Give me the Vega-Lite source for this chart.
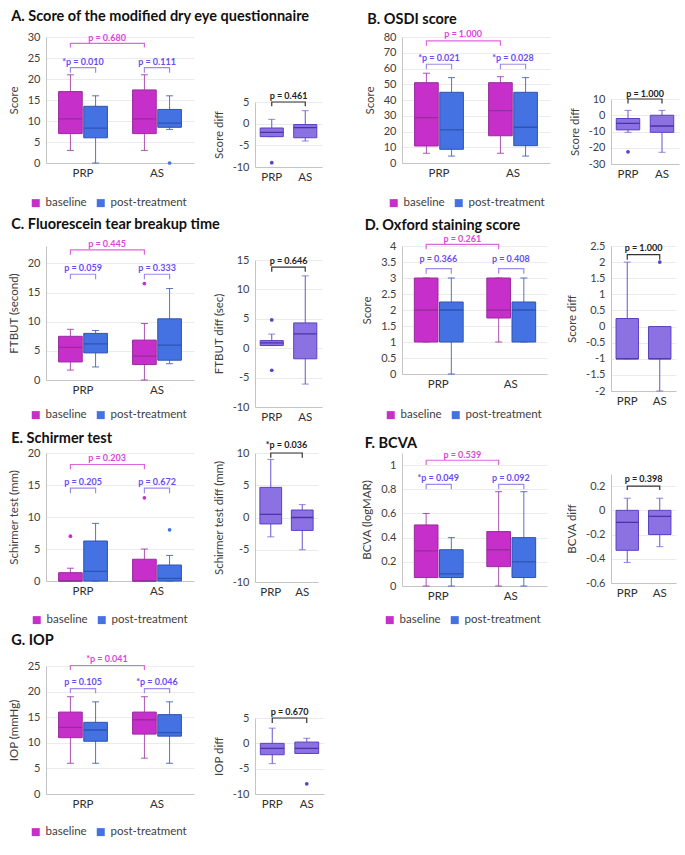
{
"$schema":"https://vega.github.io/schema/vega-lite/v6.json",
"padding":{"left":8,"top":8,"right":4,"bottom":4},
"datasets":{
"box":[
{"p":"A","g":"PRP","t":"baseline","lo":3,"q1":7,"med":10.5,"q3":17,"hi":21},
{"p":"A","g":"PRP","t":"post-treatment","lo":0,"q1":6,"med":8.3,"q3":13.5,"hi":16},
{"p":"A","g":"AS","t":"baseline","lo":3,"q1":7,"med":10.5,"q3":17.4,"hi":21},
{"p":"A","g":"AS","t":"post-treatment","lo":8,"q1":8.5,"med":9.5,"q3":12.75,"hi":16},
{"p":"B","g":"PRP","t":"baseline","lo":6.2,"q1":10.8,"med":28.8,"q3":51,"hi":57},
{"p":"B","g":"PRP","t":"post-treatment","lo":4.4,"q1":8.7,"med":21,"q3":44.9,"hi":54.2},
{"p":"B","g":"AS","t":"baseline","lo":6.2,"q1":17.3,"med":33.2,"q3":51,"hi":54.8},
{"p":"B","g":"AS","t":"post-treatment","lo":4.4,"q1":11,"med":22.7,"q3":44.9,"hi":54.2},
{"p":"C","g":"PRP","t":"baseline","lo":1.7,"q1":3.1,"med":5.6,"q3":7.5,"hi":8.7},
{"p":"C","g":"PRP","t":"post-treatment","lo":2.24,"q1":4.65,"med":6.2,"q3":8,"hi":8.5},
{"p":"C","g":"AS","t":"baseline","lo":0,"q1":2.65,"med":4.1,"q3":6.85,"hi":9.7},
{"p":"C","g":"AS","t":"post-treatment","lo":2.8,"q1":3.4,"med":6,"q3":10.5,"hi":15.7},
{"p":"D","g":"PRP","t":"baseline","lo":1,"q1":1,"med":2,"q3":3,"hi":3},
{"p":"D","g":"PRP","t":"post-treatment","lo":0,"q1":1,"med":2,"q3":2.25,"hi":3},
{"p":"D","g":"AS","t":"baseline","lo":1,"q1":1.75,"med":2,"q3":3,"hi":3},
{"p":"D","g":"AS","t":"post-treatment","lo":1,"q1":1,"med":2,"q3":2.25,"hi":3},
{"p":"E","g":"PRP","t":"baseline","lo":0,"q1":0,"med":0,"q3":1.3,"hi":2},
{"p":"E","g":"PRP","t":"post-treatment","lo":0,"q1":0,"med":1.5,"q3":6.25,"hi":9},
{"p":"E","g":"AS","t":"baseline","lo":0,"q1":0,"med":0,"q3":3.4,"hi":5},
{"p":"E","g":"AS","t":"post-treatment","lo":0,"q1":0,"med":0.42,"q3":2.5,"hi":4},
{"p":"F","g":"PRP","t":"baseline","lo":0,"q1":0.07,"med":0.29,"q3":0.505,"hi":0.6},
{"p":"F","g":"PRP","t":"post-treatment","lo":0,"q1":0.07,"med":0.1,"q3":0.3,"hi":0.4},
{"p":"F","g":"AS","t":"baseline","lo":0,"q1":0.16,"med":0.3,"q3":0.45,"hi":0.78},
{"p":"F","g":"AS","t":"post-treatment","lo":0,"q1":0.07,"med":0.2,"q3":0.4,"hi":0.78},
{"p":"G","g":"PRP","t":"baseline","lo":6,"q1":11,"med":13,"q3":16,"hi":19},
{"p":"G","g":"PRP","t":"post-treatment","lo":6,"q1":10.3,"med":12.5,"q3":14,"hi":18},
{"p":"G","g":"AS","t":"baseline","lo":7,"q1":11.7,"med":14.5,"q3":16,"hi":19},
{"p":"G","g":"AS","t":"post-treatment","lo":6,"q1":11.3,"med":12,"q3":15.5,"hi":18}
],
"out":[
{"p":"A","g":"AS","t":"post-treatment","v":0},
{"p":"C","g":"AS","t":"baseline","v":16.55},
{"p":"E","g":"PRP","t":"baseline","v":7},
{"p":"E","g":"AS","t":"baseline","v":13},
{"p":"E","g":"AS","t":"post-treatment","v":8}
],
"dbox":[
{"p":"A","g":"PRP","lo":-3,"q1":-3,"med":-2,"q3":-1,"hi":1},
{"p":"A","g":"AS","lo":-4,"q1":-3.25,"med":-0.9,"q3":-0.2,"hi":3},
{"p":"B","g":"PRP","lo":-10.5,"q1":-9,"med":-5,"q3":-2,"hi":3},
{"p":"B","g":"AS","lo":-22.8,"q1":-10.5,"med":-6.6,"q3":0,"hi":3},
{"p":"C","g":"PRP","lo":0.45,"q1":0.45,"med":0.9,"q3":1.3,"hi":2.4},
{"p":"C","g":"AS","lo":-6.1,"q1":-1.8,"med":2.45,"q3":4.3,"hi":12.3},
{"p":"D","g":"PRP","lo":-1,"q1":-1,"med":-1,"q3":0.25,"hi":2},
{"p":"D","g":"AS","lo":-2,"q1":-1,"med":-1,"q3":0,"hi":0},
{"p":"E","g":"PRP","lo":-3,"q1":-1,"med":0.5,"q3":4.67,"hi":9},
{"p":"E","g":"AS","lo":-5,"q1":-2,"med":0,"q3":1.16,"hi":2},
{"p":"F","g":"PRP","lo":-0.43,"q1":-0.33,"med":-0.1,"q3":0,"hi":0.1},
{"p":"F","g":"AS","lo":-0.3,"q1":-0.2,"med":-0.05,"q3":0,"hi":0.1},
{"p":"G","g":"PRP","lo":-4,"q1":-2.25,"med":-1,"q3":0,"hi":3},
{"p":"G","g":"AS","lo":-2,"q1":-2,"med":-1,"q3":0.25,"hi":1}
],
"dout":[
{"p":"A","g":"PRP","v":-9},
{"p":"B","g":"PRP","v":-22.5},
{"p":"C","g":"PRP","v":4.8},
{"p":"C","g":"PRP","v":-3.75},
{"p":"D","g":"AS","v":2},
{"p":"G","g":"AS","v":-8}
],
"brk":[
{"p":"A","c":"pink","b":"x","k":1,"g":"PRP","t":"baseline","y":27.5},
{"p":"A","c":"pink","b":"x","k":2,"g":"PRP","t":"baseline","y":28.5},
{"p":"A","c":"pink","b":"x","k":3,"g":"AS","t":"baseline","y":28.5},
{"p":"A","c":"pink","b":"x","k":4,"g":"AS","t":"baseline","y":27.5},
{"p":"A","c":"purple","b":"PRP","k":1,"g":"PRP","t":"baseline","y":21.5},
{"p":"A","c":"purple","b":"PRP","k":2,"g":"PRP","t":"baseline","y":22.7},
{"p":"A","c":"purple","b":"PRP","k":3,"g":"PRP","t":"post-treatment","y":22.7},
{"p":"A","c":"purple","b":"PRP","k":4,"g":"PRP","t":"post-treatment","y":21.5},
{"p":"A","c":"purple","b":"AS","k":1,"g":"AS","t":"baseline","y":21.5},
{"p":"A","c":"purple","b":"AS","k":2,"g":"AS","t":"baseline","y":22.7},
{"p":"A","c":"purple","b":"AS","k":3,"g":"AS","t":"post-treatment","y":22.7},
{"p":"A","c":"purple","b":"AS","k":4,"g":"AS","t":"post-treatment","y":21.5},
{"p":"B","c":"pink","b":"x","k":1,"g":"PRP","t":"baseline","y":74.5},
{"p":"B","c":"pink","b":"x","k":2,"g":"PRP","t":"baseline","y":77.5},
{"p":"B","c":"pink","b":"x","k":3,"g":"AS","t":"baseline","y":77.5},
{"p":"B","c":"pink","b":"x","k":4,"g":"AS","t":"baseline","y":74.5},
{"p":"B","c":"purple","b":"PRP","k":1,"g":"PRP","t":"baseline","y":59.5},
{"p":"B","c":"purple","b":"PRP","k":2,"g":"PRP","t":"baseline","y":62.7},
{"p":"B","c":"purple","b":"PRP","k":3,"g":"PRP","t":"post-treatment","y":62.7},
{"p":"B","c":"purple","b":"PRP","k":4,"g":"PRP","t":"post-treatment","y":59.5},
{"p":"B","c":"purple","b":"AS","k":1,"g":"AS","t":"baseline","y":59.5},
{"p":"B","c":"purple","b":"AS","k":2,"g":"AS","t":"baseline","y":62.7},
{"p":"B","c":"purple","b":"AS","k":3,"g":"AS","t":"post-treatment","y":62.7},
{"p":"B","c":"purple","b":"AS","k":4,"g":"AS","t":"post-treatment","y":59.5},
{"p":"C","c":"pink","b":"x","k":1,"g":"PRP","t":"baseline","y":21.5},
{"p":"C","c":"pink","b":"x","k":2,"g":"PRP","t":"baseline","y":22.35},
{"p":"C","c":"pink","b":"x","k":3,"g":"AS","t":"baseline","y":22.35},
{"p":"C","c":"pink","b":"x","k":4,"g":"AS","t":"baseline","y":21.5},
{"p":"C","c":"purple","b":"PRP","k":1,"g":"PRP","t":"baseline","y":17.3},
{"p":"C","c":"purple","b":"PRP","k":2,"g":"PRP","t":"baseline","y":18.15},
{"p":"C","c":"purple","b":"PRP","k":3,"g":"PRP","t":"post-treatment","y":18.15},
{"p":"C","c":"purple","b":"PRP","k":4,"g":"PRP","t":"post-treatment","y":17.3},
{"p":"C","c":"purple","b":"AS","k":1,"g":"AS","t":"baseline","y":17.3},
{"p":"C","c":"purple","b":"AS","k":2,"g":"AS","t":"baseline","y":18.15},
{"p":"C","c":"purple","b":"AS","k":3,"g":"AS","t":"post-treatment","y":18.15},
{"p":"C","c":"purple","b":"AS","k":4,"g":"AS","t":"post-treatment","y":17.3},
{"p":"D","c":"pink","b":"x","k":1,"g":"PRP","t":"baseline","y":3.9},
{"p":"D","c":"pink","b":"x","k":2,"g":"PRP","t":"baseline","y":4.05},
{"p":"D","c":"pink","b":"x","k":3,"g":"AS","t":"baseline","y":4.05},
{"p":"D","c":"pink","b":"x","k":4,"g":"AS","t":"baseline","y":3.9},
{"p":"D","c":"purple","b":"PRP","k":1,"g":"PRP","t":"baseline","y":3.13},
{"p":"D","c":"purple","b":"PRP","k":2,"g":"PRP","t":"baseline","y":3.29},
{"p":"D","c":"purple","b":"PRP","k":3,"g":"PRP","t":"post-treatment","y":3.29},
{"p":"D","c":"purple","b":"PRP","k":4,"g":"PRP","t":"post-treatment","y":3.13},
{"p":"D","c":"purple","b":"AS","k":1,"g":"AS","t":"baseline","y":3.13},
{"p":"D","c":"purple","b":"AS","k":2,"g":"AS","t":"baseline","y":3.29},
{"p":"D","c":"purple","b":"AS","k":3,"g":"AS","t":"post-treatment","y":3.29},
{"p":"D","c":"purple","b":"AS","k":4,"g":"AS","t":"post-treatment","y":3.13},
{"p":"E","c":"pink","b":"x","k":1,"g":"PRP","t":"baseline","y":17.45},
{"p":"E","c":"pink","b":"x","k":2,"g":"PRP","t":"baseline","y":18.2},
{"p":"E","c":"pink","b":"x","k":3,"g":"AS","t":"baseline","y":18.2},
{"p":"E","c":"pink","b":"x","k":4,"g":"AS","t":"baseline","y":17.45},
{"p":"E","c":"purple","b":"PRP","k":1,"g":"PRP","t":"baseline","y":13.7},
{"p":"E","c":"purple","b":"PRP","k":2,"g":"PRP","t":"baseline","y":14.5},
{"p":"E","c":"purple","b":"PRP","k":3,"g":"PRP","t":"post-treatment","y":14.5},
{"p":"E","c":"purple","b":"PRP","k":4,"g":"PRP","t":"post-treatment","y":13.7},
{"p":"E","c":"purple","b":"AS","k":1,"g":"AS","t":"baseline","y":13.7},
{"p":"E","c":"purple","b":"AS","k":2,"g":"AS","t":"baseline","y":14.5},
{"p":"E","c":"purple","b":"AS","k":3,"g":"AS","t":"post-treatment","y":14.5},
{"p":"E","c":"purple","b":"AS","k":4,"g":"AS","t":"post-treatment","y":13.7},
{"p":"F","c":"pink","b":"x","k":1,"g":"PRP","t":"baseline","y":1.0},
{"p":"F","c":"pink","b":"x","k":2,"g":"PRP","t":"baseline","y":1.04},
{"p":"F","c":"pink","b":"x","k":3,"g":"AS","t":"baseline","y":1.04},
{"p":"F","c":"pink","b":"x","k":4,"g":"AS","t":"baseline","y":1.0},
{"p":"F","c":"purple","b":"PRP","k":1,"g":"PRP","t":"baseline","y":0.8},
{"p":"F","c":"purple","b":"PRP","k":2,"g":"PRP","t":"baseline","y":0.84},
{"p":"F","c":"purple","b":"PRP","k":3,"g":"PRP","t":"post-treatment","y":0.84},
{"p":"F","c":"purple","b":"PRP","k":4,"g":"PRP","t":"post-treatment","y":0.8},
{"p":"F","c":"purple","b":"AS","k":1,"g":"AS","t":"baseline","y":0.8},
{"p":"F","c":"purple","b":"AS","k":2,"g":"AS","t":"baseline","y":0.84},
{"p":"F","c":"purple","b":"AS","k":3,"g":"AS","t":"post-treatment","y":0.84},
{"p":"F","c":"purple","b":"AS","k":4,"g":"AS","t":"post-treatment","y":0.8},
{"p":"G","c":"pink","b":"x","k":1,"g":"PRP","t":"baseline","y":24.2},
{"p":"G","c":"pink","b":"x","k":2,"g":"PRP","t":"baseline","y":25.1},
{"p":"G","c":"pink","b":"x","k":3,"g":"AS","t":"baseline","y":25.1},
{"p":"G","c":"pink","b":"x","k":4,"g":"AS","t":"baseline","y":24.2},
{"p":"G","c":"purple","b":"PRP","k":1,"g":"PRP","t":"baseline","y":19.7},
{"p":"G","c":"purple","b":"PRP","k":2,"g":"PRP","t":"baseline","y":20.6},
{"p":"G","c":"purple","b":"PRP","k":3,"g":"PRP","t":"post-treatment","y":20.6},
{"p":"G","c":"purple","b":"PRP","k":4,"g":"PRP","t":"post-treatment","y":19.7},
{"p":"G","c":"purple","b":"AS","k":1,"g":"AS","t":"baseline","y":19.7},
{"p":"G","c":"purple","b":"AS","k":2,"g":"AS","t":"baseline","y":20.6},
{"p":"G","c":"purple","b":"AS","k":3,"g":"AS","t":"post-treatment","y":20.6},
{"p":"G","c":"purple","b":"AS","k":4,"g":"AS","t":"post-treatment","y":19.7}
],
"pt":[
{"p":"A","c":"pink","g":"PRP","y":29.7,"label":"p = 0.680"},
{"p":"A","c":"purple","g":"PRP","y":24.1,"label":"*p = 0.010"},
{"p":"A","c":"purple","g":"AS","y":24.1,"label":"p = 0.111"},
{"p":"B","c":"pink","g":"PRP","y":81.7,"label":"p = 1.000"},
{"p":"B","c":"purple","g":"PRP","y":66.5,"label":"*p = 0.021"},
{"p":"B","c":"purple","g":"AS","y":66.5,"label":"*p = 0.028"},
{"p":"C","c":"pink","g":"PRP","y":23.3,"label":"p = 0.445"},
{"p":"C","c":"purple","g":"PRP","y":19.3,"label":"p = 0.059"},
{"p":"C","c":"purple","g":"AS","y":19.3,"label":"p = 0.333"},
{"p":"D","c":"pink","g":"PRP","y":4.23,"label":"p = 0.261"},
{"p":"D","c":"purple","g":"PRP","y":3.58,"label":"p = 0.366"},
{"p":"D","c":"purple","g":"AS","y":3.58,"label":"p = 0.408"},
{"p":"E","c":"pink","g":"PRP","y":19.2,"label":"p = 0.203"},
{"p":"E","c":"purple","g":"PRP","y":15.5,"label":"p = 0.205"},
{"p":"E","c":"purple","g":"AS","y":15.5,"label":"p = 0.672"},
{"p":"F","c":"pink","g":"PRP","y":1.08,"label":"p = 0.539"},
{"p":"F","c":"purple","g":"PRP","y":0.89,"label":"*p = 0.049"},
{"p":"F","c":"purple","g":"AS","y":0.89,"label":"p = 0.092"},
{"p":"G","c":"pink","g":"PRP","y":26.4,"label":"*p = 0.041"},
{"p":"G","c":"purple","g":"PRP","y":21.8,"label":"p = 0.105"},
{"p":"G","c":"purple","g":"AS","y":21.8,"label":"*p = 0.046"}
],
"dbrk":[
{"p":"A","k":1,"g":"PRP","y":4},{"p":"A","k":2,"g":"PRP","y":5},{"p":"A","k":3,"g":"AS","y":5},{"p":"A","k":4,"g":"AS","y":4},
{"p":"B","k":1,"g":"PRP","y":7.3},{"p":"B","k":2,"g":"PRP","y":10},{"p":"B","k":3,"g":"AS","y":10},{"p":"B","k":4,"g":"AS","y":7.3},
{"p":"C","k":1,"g":"PRP","y":13.0},{"p":"C","k":2,"g":"PRP","y":13.8},{"p":"C","k":3,"g":"AS","y":13.8},{"p":"C","k":4,"g":"AS","y":13.0},
{"p":"D","k":1,"g":"PRP","y":2.07},{"p":"D","k":2,"g":"PRP","y":2.23},{"p":"D","k":3,"g":"AS","y":2.23},{"p":"D","k":4,"g":"AS","y":2.07},
{"p":"E","k":1,"g":"PRP","y":9.25},{"p":"E","k":2,"g":"PRP","y":10},{"p":"E","k":3,"g":"AS","y":10},{"p":"E","k":4,"g":"AS","y":9.25},
{"p":"F","k":1,"g":"PRP","y":0.167},{"p":"F","k":2,"g":"PRP","y":0.2},{"p":"F","k":3,"g":"AS","y":0.2},{"p":"F","k":4,"g":"AS","y":0.167},
{"p":"G","k":1,"g":"PRP","y":4},{"p":"G","k":2,"g":"PRP","y":5},{"p":"G","k":3,"g":"AS","y":5},{"p":"G","k":4,"g":"AS","y":4}
],
"dpt":[
{"p":"A","y":6.4,"label":"p = 0.461"},
{"p":"B","y":12.9,"label":"p = 1.000"},
{"p":"C","y":14.9,"label":"p = 0.646"},
{"p":"D","y":2.44,"label":"p = 1.000"},
{"p":"E","y":11.2,"label":"*p = 0.036"},
{"p":"F","y":0.258,"label":"p = 0.398"},
{"p":"G","y":6.2,"label":"p = 0.670"}
]
},
"columns":2,
"align":"each",
"spacing":{"row":7,"column":37},
"resolve":{"scale":{"color":"independent","stroke":"independent","fill":"independent"}},
"concat":[
{"title":{"text":"A. Score of the modified dry eye questionnaire","offset":3,"dx":3},
"spacing":19,
"resolve":{"scale":{"color":"independent","stroke":"independent","fill":"independent"}},
"hconcat":[
{"width":148,"height":126,"title":{"text":" ","fontSize":1,"offset":3},
"layer":[
{"data":{"name":"box"},"transform":[{"filter":"datum.p=='A'"}],"mark":{"type":"rule","strokeWidth":1,"opacity":0.8},
"encoding":{"x":{"field":"g","type":"nominal","scale":{"domain":["PRP","AS"],"paddingInner":0.34,"paddingOuter":0.17},"axis":{"title":null}},"xOffset":{"field":"t","type":"nominal","scale":{"domain":["baseline","post-treatment"],"paddingInner":0.06}},
"y":{"field":"lo","type":"quantitative","scale":{"domain":[0,30],"nice":false,"zero":false},"axis":{"values":[0,5,10,15,20,25,30],"tickCount":20,"title":"Score","labelExpr":"''+datum.value"}},"y2":{"field":"hi"},
"stroke":{"field":"t","type":"nominal","scale":{"domain":["post-treatment","baseline"],"range":["#2E53B2","#982C9C"]},"legend":null}}},
{"data":{"name":"box"},"transform":[{"filter":"datum.p=='A'"}],"mark":{"type":"tick","size":7,"thickness":1,"opacity":0.8},
"encoding":{"x":{"field":"g","type":"nominal"},"xOffset":{"field":"t","type":"nominal"},"y":{"field":"lo","type":"quantitative"},"fill":{"field":"t","type":"nominal","scale":{"domain":["post-treatment","baseline"],"range":["#2E53B2","#982C9C"]},"legend":null}}},
{"data":{"name":"box"},"transform":[{"filter":"datum.p=='A'"}],"mark":{"type":"tick","size":7,"thickness":1,"opacity":0.8},
"encoding":{"x":{"field":"g","type":"nominal"},"xOffset":{"field":"t","type":"nominal"},"y":{"field":"hi","type":"quantitative"},"fill":{"field":"t","type":"nominal","legend":null}}},
{"data":{"name":"box"},"transform":[{"filter":"datum.p=='A'"}],"mark":{"type":"bar","strokeWidth":1},
"encoding":{"x":{"field":"g","type":"nominal"},"xOffset":{"field":"t","type":"nominal"},"y":{"field":"q1","type":"quantitative"},"y2":{"field":"q3"},
"color":{"field":"t","type":"nominal","title":null,"scale":{"domain":["baseline","post-treatment"],"range":["#C62FC9","#4472E2"]},"legend":{"legendX":-16,"legendY":160}},
"stroke":{"field":"t","type":"nominal","legend":null}}},
{"data":{"name":"box"},"transform":[{"filter":"datum.p=='A'"}],"mark":{"type":"bar","strokeWidth":1.3,"fillOpacity":0},
"encoding":{"x":{"field":"g","type":"nominal"},"xOffset":{"field":"t","type":"nominal"},"y":{"field":"med","type":"quantitative"},"y2":{"field":"med"},"stroke":{"field":"t","type":"nominal","legend":null}}},
{"data":{"name":"out"},"transform":[{"filter":"datum.p=='A'"}],"mark":{"type":"point","filled":true,"size":14,"opacity":1},
"encoding":{"x":{"field":"g","type":"nominal"},"xOffset":{"field":"t","type":"nominal"},"y":{"field":"v","type":"quantitative"},"color":{"field":"t","type":"nominal"}}},
{"data":{"name":"brk"},"transform":[{"filter":"datum.p=='A' && datum.c=='pink'"}],"mark":{"type":"line","color":"#E066E0","strokeWidth":1.2},
"encoding":{"x":{"field":"g","type":"nominal"},"xOffset":{"field":"t","type":"nominal"},"y":{"field":"y","type":"quantitative"},"detail":{"field":"b"},"order":{"field":"k"}}},
{"data":{"name":"brk"},"transform":[{"filter":"datum.p=='A' && datum.c=='purple'"}],"mark":{"type":"line","color":"#A08AF0","strokeWidth":1.2},
"encoding":{"x":{"field":"g","type":"nominal"},"xOffset":{"field":"t","type":"nominal"},"y":{"field":"y","type":"quantitative"},"detail":{"field":"b"},"order":{"field":"k"}}},
{"data":{"name":"pt"},"transform":[{"filter":"datum.p=='A' && datum.c=='pink'"}],"mark":{"type":"text","dx":24,"fontWeight":"bold","fontSize":9,"color":"#DC45DC"},
"encoding":{"x":{"field":"g","type":"nominal"},"y":{"field":"y","type":"quantitative"},"text":{"field":"label"}}},
{"data":{"name":"pt"},"transform":[{"filter":"datum.p=='A' && datum.c=='purple'"}],"mark":{"type":"text","fontWeight":"bold","fontSize":9,"color":"#6A4BEF"},
"encoding":{"x":{"field":"g","type":"nominal"},"y":{"field":"y","type":"quantitative"},"text":{"field":"label"}}}
]},
{"spacing":0,"vconcat":[
{"width":1,"height":54,"data":{"values":[]},"mark":"point","encoding":{}},
{"width":67,"height":65,
"layer":[
{"data":{"name":"dbox"},"transform":[{"filter":"datum.p=='A'"}],"mark":{"type":"rule","color":"#6B53CF","strokeWidth":1},
"encoding":{"x":{"field":"g","type":"nominal","scale":{"domain":["PRP","AS"],"paddingInner":0.31,"paddingOuter":0.155},"axis":{"title":null}},
"y":{"field":"lo","type":"quantitative","scale":{"domain":[-10,5],"nice":false,"zero":false},"axis":{"values":[-10,-5,0,5],"tickCount":20,"title":"Score diff","labelExpr":"''+datum.value"}},"y2":{"field":"hi"}}},
{"data":{"name":"dbox"},"transform":[{"filter":"datum.p=='A'"}],"mark":{"type":"tick","size":7,"thickness":1,"color":"#6B53CF"},"encoding":{"x":{"field":"g","type":"nominal"},"y":{"field":"lo","type":"quantitative"}}},
{"data":{"name":"dbox"},"transform":[{"filter":"datum.p=='A'"}],"mark":{"type":"tick","size":7,"thickness":1,"color":"#6B53CF"},"encoding":{"x":{"field":"g","type":"nominal"},"y":{"field":"hi","type":"quantitative"}}},
{"data":{"name":"dbox"},"transform":[{"filter":"datum.p=='A'"}],"mark":{"type":"bar","color":"#8C71E3","stroke":"#5A40C2","strokeWidth":1},"encoding":{"x":{"field":"g","type":"nominal"},"y":{"field":"q1","type":"quantitative"},"y2":{"field":"q3"}}},
{"data":{"name":"dbox"},"transform":[{"filter":"datum.p=='A'"}],"mark":{"type":"bar","fillOpacity":0,"stroke":"#4A33A8","strokeWidth":1.3},"encoding":{"x":{"field":"g","type":"nominal"},"y":{"field":"med","type":"quantitative"},"y2":{"field":"med"}}},
{"data":{"name":"dout"},"transform":[{"filter":"datum.p=='A'"}],"mark":{"type":"point","filled":true,"size":14,"color":"#5A42C8","opacity":1},"encoding":{"x":{"field":"g","type":"nominal"},"y":{"field":"v","type":"quantitative"}}},
{"data":{"name":"dbrk"},"transform":[{"filter":"datum.p=='A'"}],"mark":{"type":"line","color":"#333333","strokeWidth":1.2},"encoding":{"x":{"field":"g","type":"nominal"},"y":{"field":"y","type":"quantitative"},"order":{"field":"k"}}},
{"data":{"name":"dpt"},"transform":[{"filter":"datum.p=='A'"}],"mark":{"type":"text","fontWeight":"bold","fontSize":9,"color":"#222222"},"encoding":{"y":{"field":"y","type":"quantitative"},"text":{"field":"label"}}}
]}
]}
]},
{"title":{"text":"B. OSDI score","offset":3,"dx":3},
"spacing":19,
"resolve":{"scale":{"color":"independent","stroke":"independent","fill":"independent"}},
"hconcat":[
{"width":148,"height":126,
"layer":[
{"data":{"name":"box"},"transform":[{"filter":"datum.p=='B'"}],"mark":{"type":"rule","strokeWidth":1,"opacity":0.8},
"encoding":{"x":{"field":"g","type":"nominal","scale":{"domain":["PRP","AS"],"paddingInner":0.34,"paddingOuter":0.17},"axis":{"title":null}},"xOffset":{"field":"t","type":"nominal","scale":{"domain":["baseline","post-treatment"],"paddingInner":0.06}},
"y":{"field":"lo","type":"quantitative","scale":{"domain":[0,80],"nice":false,"zero":false},"axis":{"values":[0,10,20,30,40,50,60,70,80],"tickCount":20,"title":"Score","labelExpr":"''+datum.value"}},"y2":{"field":"hi"},
"stroke":{"field":"t","type":"nominal","scale":{"domain":["post-treatment","baseline"],"range":["#2E53B2","#982C9C"]},"legend":null}}},
{"data":{"name":"box"},"transform":[{"filter":"datum.p=='B'"}],"mark":{"type":"tick","size":7,"thickness":1,"opacity":0.8},
"encoding":{"x":{"field":"g","type":"nominal"},"xOffset":{"field":"t","type":"nominal"},"y":{"field":"lo","type":"quantitative"},"fill":{"field":"t","type":"nominal","scale":{"domain":["post-treatment","baseline"],"range":["#2E53B2","#982C9C"]},"legend":null}}},
{"data":{"name":"box"},"transform":[{"filter":"datum.p=='B'"}],"mark":{"type":"tick","size":7,"thickness":1,"opacity":0.8},
"encoding":{"x":{"field":"g","type":"nominal"},"xOffset":{"field":"t","type":"nominal"},"y":{"field":"hi","type":"quantitative"},"fill":{"field":"t","type":"nominal","legend":null}}},
{"data":{"name":"box"},"transform":[{"filter":"datum.p=='B'"}],"mark":{"type":"bar","strokeWidth":1},
"encoding":{"x":{"field":"g","type":"nominal"},"xOffset":{"field":"t","type":"nominal"},"y":{"field":"q1","type":"quantitative"},"y2":{"field":"q3"},
"color":{"field":"t","type":"nominal","title":null,"scale":{"domain":["baseline","post-treatment"],"range":["#C62FC9","#4472E2"]},"legend":{"legendX":-14,"legendY":160}},
"stroke":{"field":"t","type":"nominal","legend":null}}},
{"data":{"name":"box"},"transform":[{"filter":"datum.p=='B'"}],"mark":{"type":"bar","strokeWidth":1.3,"fillOpacity":0},
"encoding":{"x":{"field":"g","type":"nominal"},"xOffset":{"field":"t","type":"nominal"},"y":{"field":"med","type":"quantitative"},"y2":{"field":"med"},"stroke":{"field":"t","type":"nominal","legend":null}}},
{"data":{"name":"brk"},"transform":[{"filter":"datum.p=='B' && datum.c=='pink'"}],"mark":{"type":"line","color":"#E066E0","strokeWidth":1.2},
"encoding":{"x":{"field":"g","type":"nominal"},"xOffset":{"field":"t","type":"nominal"},"y":{"field":"y","type":"quantitative"},"detail":{"field":"b"},"order":{"field":"k"}}},
{"data":{"name":"brk"},"transform":[{"filter":"datum.p=='B' && datum.c=='purple'"}],"mark":{"type":"line","color":"#A08AF0","strokeWidth":1.2},
"encoding":{"x":{"field":"g","type":"nominal"},"xOffset":{"field":"t","type":"nominal"},"y":{"field":"y","type":"quantitative"},"detail":{"field":"b"},"order":{"field":"k"}}},
{"data":{"name":"pt"},"transform":[{"filter":"datum.p=='B' && datum.c=='pink'"}],"mark":{"type":"text","dx":24,"fontWeight":"bold","fontSize":9,"color":"#DC45DC"},
"encoding":{"x":{"field":"g","type":"nominal"},"y":{"field":"y","type":"quantitative"},"text":{"field":"label"}}},
{"data":{"name":"pt"},"transform":[{"filter":"datum.p=='B' && datum.c=='purple'"}],"mark":{"type":"text","fontWeight":"bold","fontSize":9,"color":"#6A4BEF"},
"encoding":{"x":{"field":"g","type":"nominal"},"y":{"field":"y","type":"quantitative"},"text":{"field":"label"}}}
]},
{"spacing":0,"vconcat":[
{"width":1,"height":53,"data":{"values":[]},"mark":"point","encoding":{}},
{"width":68,"height":65,
"layer":[
{"data":{"name":"dbox"},"transform":[{"filter":"datum.p=='B'"}],"mark":{"type":"rule","color":"#6B53CF","strokeWidth":1},
"encoding":{"x":{"field":"g","type":"nominal","scale":{"domain":["PRP","AS"],"paddingInner":0.31,"paddingOuter":0.155},"axis":{"title":null}},
"y":{"field":"lo","type":"quantitative","scale":{"domain":[-30,10],"nice":false,"zero":false},"axis":{"values":[-30,-20,-10,0,10],"tickCount":20,"title":"Score diff","labelExpr":"''+datum.value"}},"y2":{"field":"hi"}}},
{"data":{"name":"dbox"},"transform":[{"filter":"datum.p=='B'"}],"mark":{"type":"tick","size":7,"thickness":1,"color":"#6B53CF"},"encoding":{"x":{"field":"g","type":"nominal"},"y":{"field":"lo","type":"quantitative"}}},
{"data":{"name":"dbox"},"transform":[{"filter":"datum.p=='B'"}],"mark":{"type":"tick","size":7,"thickness":1,"color":"#6B53CF"},"encoding":{"x":{"field":"g","type":"nominal"},"y":{"field":"hi","type":"quantitative"}}},
{"data":{"name":"dbox"},"transform":[{"filter":"datum.p=='B'"}],"mark":{"type":"bar","color":"#8C71E3","stroke":"#5A40C2","strokeWidth":1},"encoding":{"x":{"field":"g","type":"nominal"},"y":{"field":"q1","type":"quantitative"},"y2":{"field":"q3"}}},
{"data":{"name":"dbox"},"transform":[{"filter":"datum.p=='B'"}],"mark":{"type":"bar","fillOpacity":0,"stroke":"#4A33A8","strokeWidth":1.3},"encoding":{"x":{"field":"g","type":"nominal"},"y":{"field":"med","type":"quantitative"},"y2":{"field":"med"}}},
{"data":{"name":"dout"},"transform":[{"filter":"datum.p=='B'"}],"mark":{"type":"point","filled":true,"size":14,"color":"#5A42C8","opacity":1},"encoding":{"x":{"field":"g","type":"nominal"},"y":{"field":"v","type":"quantitative"}}},
{"data":{"name":"dbrk"},"transform":[{"filter":"datum.p=='B'"}],"mark":{"type":"line","color":"#333333","strokeWidth":1.2},"encoding":{"x":{"field":"g","type":"nominal"},"y":{"field":"y","type":"quantitative"},"order":{"field":"k"}}},
{"data":{"name":"dpt"},"transform":[{"filter":"datum.p=='B'"}],"mark":{"type":"text","fontWeight":"bold","fontSize":9,"color":"#222222"},"encoding":{"y":{"field":"y","type":"quantitative"},"text":{"field":"label"}}}
]}
]}
]},
{"title":{"text":"C. Fluorescein tear breakup time","offset":8,"dx":3},
"spacing":19,
"resolve":{"scale":{"color":"independent","stroke":"independent","fill":"independent"}},
"hconcat":[
{"width":148,"height":134,
"layer":[
{"data":{"name":"box"},"transform":[{"filter":"datum.p=='C'"}],"mark":{"type":"rule","strokeWidth":1,"opacity":0.8},
"encoding":{"x":{"field":"g","type":"nominal","scale":{"domain":["PRP","AS"],"paddingInner":0.34,"paddingOuter":0.17},"axis":{"title":null}},"xOffset":{"field":"t","type":"nominal","scale":{"domain":["baseline","post-treatment"],"paddingInner":0.06}},
"y":{"field":"lo","type":"quantitative","scale":{"domain":[0,23],"nice":false,"zero":false},"axis":{"values":[0,5,10,15,20],"tickCount":20,"title":"FTBUT (second)","labelExpr":"''+datum.value"}},"y2":{"field":"hi"},
"stroke":{"field":"t","type":"nominal","scale":{"domain":["post-treatment","baseline"],"range":["#2E53B2","#982C9C"]},"legend":null}}},
{"data":{"name":"box"},"transform":[{"filter":"datum.p=='C'"}],"mark":{"type":"tick","size":7,"thickness":1,"opacity":0.8},
"encoding":{"x":{"field":"g","type":"nominal"},"xOffset":{"field":"t","type":"nominal"},"y":{"field":"lo","type":"quantitative"},"fill":{"field":"t","type":"nominal","scale":{"domain":["post-treatment","baseline"],"range":["#2E53B2","#982C9C"]},"legend":null}}},
{"data":{"name":"box"},"transform":[{"filter":"datum.p=='C'"}],"mark":{"type":"tick","size":7,"thickness":1,"opacity":0.8},
"encoding":{"x":{"field":"g","type":"nominal"},"xOffset":{"field":"t","type":"nominal"},"y":{"field":"hi","type":"quantitative"},"fill":{"field":"t","type":"nominal","legend":null}}},
{"data":{"name":"box"},"transform":[{"filter":"datum.p=='C'"}],"mark":{"type":"bar","strokeWidth":1},
"encoding":{"x":{"field":"g","type":"nominal"},"xOffset":{"field":"t","type":"nominal"},"y":{"field":"q1","type":"quantitative"},"y2":{"field":"q3"},
"color":{"field":"t","type":"nominal","title":null,"scale":{"domain":["baseline","post-treatment"],"range":["#C62FC9","#4472E2"]},"legend":{"legendX":-16,"legendY":163}},
"stroke":{"field":"t","type":"nominal","legend":null}}},
{"data":{"name":"box"},"transform":[{"filter":"datum.p=='C'"}],"mark":{"type":"bar","strokeWidth":1.3,"fillOpacity":0},
"encoding":{"x":{"field":"g","type":"nominal"},"xOffset":{"field":"t","type":"nominal"},"y":{"field":"med","type":"quantitative"},"y2":{"field":"med"},"stroke":{"field":"t","type":"nominal","legend":null}}},
{"data":{"name":"out"},"transform":[{"filter":"datum.p=='C'"}],"mark":{"type":"point","filled":true,"size":14,"opacity":1},
"encoding":{"x":{"field":"g","type":"nominal"},"xOffset":{"field":"t","type":"nominal"},"y":{"field":"v","type":"quantitative"},"color":{"field":"t","type":"nominal"}}},
{"data":{"name":"brk"},"transform":[{"filter":"datum.p=='C' && datum.c=='pink'"}],"mark":{"type":"line","color":"#E066E0","strokeWidth":1.2},
"encoding":{"x":{"field":"g","type":"nominal"},"xOffset":{"field":"t","type":"nominal"},"y":{"field":"y","type":"quantitative"},"detail":{"field":"b"},"order":{"field":"k"}}},
{"data":{"name":"brk"},"transform":[{"filter":"datum.p=='C' && datum.c=='purple'"}],"mark":{"type":"line","color":"#A08AF0","strokeWidth":1.2},
"encoding":{"x":{"field":"g","type":"nominal"},"xOffset":{"field":"t","type":"nominal"},"y":{"field":"y","type":"quantitative"},"detail":{"field":"b"},"order":{"field":"k"}}},
{"data":{"name":"pt"},"transform":[{"filter":"datum.p=='C' && datum.c=='pink'"}],"mark":{"type":"text","dx":24,"fontWeight":"bold","fontSize":9,"color":"#DC45DC"},
"encoding":{"x":{"field":"g","type":"nominal"},"y":{"field":"y","type":"quantitative"},"text":{"field":"label"}}},
{"data":{"name":"pt"},"transform":[{"filter":"datum.p=='C' && datum.c=='purple'"}],"mark":{"type":"text","fontWeight":"bold","fontSize":9,"color":"#6A4BEF"},
"encoding":{"x":{"field":"g","type":"nominal"},"y":{"field":"y","type":"quantitative"},"text":{"field":"label"}}}
]},
{"spacing":0,"vconcat":[
{"width":1,"height":8,"data":{"values":[]},"mark":"point","encoding":{}},
{"width":67,"height":147,
"layer":[
{"data":{"name":"dbox"},"transform":[{"filter":"datum.p=='C'"}],"mark":{"type":"rule","color":"#6B53CF","strokeWidth":1},
"encoding":{"x":{"field":"g","type":"nominal","scale":{"domain":["PRP","AS"],"paddingInner":0.31,"paddingOuter":0.155},"axis":{"title":null}},
"y":{"field":"lo","type":"quantitative","scale":{"domain":[-10,15],"nice":false,"zero":false},"axis":{"values":[-10,-5,0,5,10,15],"tickCount":20,"title":"FTBUT diff (sec)","labelExpr":"''+datum.value"}},"y2":{"field":"hi"}}},
{"data":{"name":"dbox"},"transform":[{"filter":"datum.p=='C'"}],"mark":{"type":"tick","size":7,"thickness":1,"color":"#6B53CF"},"encoding":{"x":{"field":"g","type":"nominal"},"y":{"field":"lo","type":"quantitative"}}},
{"data":{"name":"dbox"},"transform":[{"filter":"datum.p=='C'"}],"mark":{"type":"tick","size":7,"thickness":1,"color":"#6B53CF"},"encoding":{"x":{"field":"g","type":"nominal"},"y":{"field":"hi","type":"quantitative"}}},
{"data":{"name":"dbox"},"transform":[{"filter":"datum.p=='C'"}],"mark":{"type":"bar","color":"#8C71E3","stroke":"#5A40C2","strokeWidth":1},"encoding":{"x":{"field":"g","type":"nominal"},"y":{"field":"q1","type":"quantitative"},"y2":{"field":"q3"}}},
{"data":{"name":"dbox"},"transform":[{"filter":"datum.p=='C'"}],"mark":{"type":"bar","fillOpacity":0,"stroke":"#4A33A8","strokeWidth":1.3},"encoding":{"x":{"field":"g","type":"nominal"},"y":{"field":"med","type":"quantitative"},"y2":{"field":"med"}}},
{"data":{"name":"dout"},"transform":[{"filter":"datum.p=='C'"}],"mark":{"type":"point","filled":true,"size":14,"color":"#5A42C8","opacity":1},"encoding":{"x":{"field":"g","type":"nominal"},"y":{"field":"v","type":"quantitative"}}},
{"data":{"name":"dbrk"},"transform":[{"filter":"datum.p=='C'"}],"mark":{"type":"line","color":"#333333","strokeWidth":1.2},"encoding":{"x":{"field":"g","type":"nominal"},"y":{"field":"y","type":"quantitative"},"order":{"field":"k"}}},
{"data":{"name":"dpt"},"transform":[{"filter":"datum.p=='C'"}],"mark":{"type":"text","fontWeight":"bold","fontSize":9,"color":"#222222"},"encoding":{"y":{"field":"y","type":"quantitative"},"text":{"field":"label"}}}
]}
]}
]},
{"title":{"text":"D. Oxford staining score","offset":1,"dx":3},
"spacing":19,
"resolve":{"scale":{"color":"independent","stroke":"independent","fill":"independent"}},
"hconcat":[
{"width":145,"height":128,
"layer":[
{"data":{"name":"box"},"transform":[{"filter":"datum.p=='D'"}],"mark":{"type":"rule","strokeWidth":1,"opacity":0.8},
"encoding":{"x":{"field":"g","type":"nominal","scale":{"domain":["PRP","AS"],"paddingInner":0.34,"paddingOuter":0.17},"axis":{"title":null}},"xOffset":{"field":"t","type":"nominal","scale":{"domain":["baseline","post-treatment"],"paddingInner":0.06}},
"y":{"field":"lo","type":"quantitative","scale":{"domain":[0,4],"nice":false,"zero":false},"axis":{"values":[0,0.5,1,1.5,2,2.5,3,3.5,4],"tickCount":20,"title":"Score","labelExpr":"''+datum.value"}},"y2":{"field":"hi"},
"stroke":{"field":"t","type":"nominal","scale":{"domain":["post-treatment","baseline"],"range":["#2E53B2","#982C9C"]},"legend":null}}},
{"data":{"name":"box"},"transform":[{"filter":"datum.p=='D'"}],"mark":{"type":"tick","size":7,"thickness":1,"opacity":0.8},
"encoding":{"x":{"field":"g","type":"nominal"},"xOffset":{"field":"t","type":"nominal"},"y":{"field":"lo","type":"quantitative"},"fill":{"field":"t","type":"nominal","scale":{"domain":["post-treatment","baseline"],"range":["#2E53B2","#982C9C"]},"legend":null}}},
{"data":{"name":"box"},"transform":[{"filter":"datum.p=='D'"}],"mark":{"type":"tick","size":7,"thickness":1,"opacity":0.8},
"encoding":{"x":{"field":"g","type":"nominal"},"xOffset":{"field":"t","type":"nominal"},"y":{"field":"hi","type":"quantitative"},"fill":{"field":"t","type":"nominal","legend":null}}},
{"data":{"name":"box"},"transform":[{"filter":"datum.p=='D'"}],"mark":{"type":"bar","strokeWidth":1},
"encoding":{"x":{"field":"g","type":"nominal"},"xOffset":{"field":"t","type":"nominal"},"y":{"field":"q1","type":"quantitative"},"y2":{"field":"q3"},
"color":{"field":"t","type":"nominal","title":null,"scale":{"domain":["baseline","post-treatment"],"range":["#C62FC9","#4472E2"]},"legend":{"legendX":-17,"legendY":163}},
"stroke":{"field":"t","type":"nominal","legend":null}}},
{"data":{"name":"box"},"transform":[{"filter":"datum.p=='D'"}],"mark":{"type":"bar","strokeWidth":1.3,"fillOpacity":0},
"encoding":{"x":{"field":"g","type":"nominal"},"xOffset":{"field":"t","type":"nominal"},"y":{"field":"med","type":"quantitative"},"y2":{"field":"med"},"stroke":{"field":"t","type":"nominal","legend":null}}},
{"data":{"name":"brk"},"transform":[{"filter":"datum.p=='D' && datum.c=='pink'"}],"mark":{"type":"line","color":"#E066E0","strokeWidth":1.2},
"encoding":{"x":{"field":"g","type":"nominal"},"xOffset":{"field":"t","type":"nominal"},"y":{"field":"y","type":"quantitative"},"detail":{"field":"b"},"order":{"field":"k"}}},
{"data":{"name":"brk"},"transform":[{"filter":"datum.p=='D' && datum.c=='purple'"}],"mark":{"type":"line","color":"#A08AF0","strokeWidth":1.2},
"encoding":{"x":{"field":"g","type":"nominal"},"xOffset":{"field":"t","type":"nominal"},"y":{"field":"y","type":"quantitative"},"detail":{"field":"b"},"order":{"field":"k"}}},
{"data":{"name":"pt"},"transform":[{"filter":"datum.p=='D' && datum.c=='pink'"}],"mark":{"type":"text","dx":24,"fontWeight":"bold","fontSize":9,"color":"#DC45DC"},
"encoding":{"x":{"field":"g","type":"nominal"},"y":{"field":"y","type":"quantitative"},"text":{"field":"label"}}},
{"data":{"name":"pt"},"transform":[{"filter":"datum.p=='D' && datum.c=='purple'"}],"mark":{"type":"text","fontWeight":"bold","fontSize":9,"color":"#6A4BEF"},
"encoding":{"x":{"field":"g","type":"nominal"},"y":{"field":"y","type":"quantitative"},"text":{"field":"label"}}}
]},
{"width":65,"height":145,
"layer":[
{"data":{"name":"dbox"},"transform":[{"filter":"datum.p=='D'"}],"mark":{"type":"rule","color":"#6B53CF","strokeWidth":1},
"encoding":{"x":{"field":"g","type":"nominal","scale":{"domain":["PRP","AS"],"paddingInner":0.31,"paddingOuter":0.155},"axis":{"title":null}},
"y":{"field":"lo","type":"quantitative","scale":{"domain":[-2,2.5],"nice":false,"zero":false},"axis":{"values":[-2,-1.5,-1,-0.5,0,0.5,1,1.5,2,2.5],"tickCount":20,"title":"Score diff","labelExpr":"''+datum.value"}},"y2":{"field":"hi"}}},
{"data":{"name":"dbox"},"transform":[{"filter":"datum.p=='D'"}],"mark":{"type":"tick","size":7,"thickness":1,"color":"#6B53CF"},"encoding":{"x":{"field":"g","type":"nominal"},"y":{"field":"lo","type":"quantitative"}}},
{"data":{"name":"dbox"},"transform":[{"filter":"datum.p=='D'"}],"mark":{"type":"tick","size":7,"thickness":1,"color":"#6B53CF"},"encoding":{"x":{"field":"g","type":"nominal"},"y":{"field":"hi","type":"quantitative"}}},
{"data":{"name":"dbox"},"transform":[{"filter":"datum.p=='D'"}],"mark":{"type":"bar","color":"#8C71E3","stroke":"#5A40C2","strokeWidth":1},"encoding":{"x":{"field":"g","type":"nominal"},"y":{"field":"q1","type":"quantitative"},"y2":{"field":"q3"}}},
{"data":{"name":"dbox"},"transform":[{"filter":"datum.p=='D'"}],"mark":{"type":"bar","fillOpacity":0,"stroke":"#4A33A8","strokeWidth":1.3},"encoding":{"x":{"field":"g","type":"nominal"},"y":{"field":"med","type":"quantitative"},"y2":{"field":"med"}}},
{"data":{"name":"dout"},"transform":[{"filter":"datum.p=='D'"}],"mark":{"type":"point","filled":true,"size":14,"color":"#5A42C8","opacity":1},"encoding":{"x":{"field":"g","type":"nominal"},"y":{"field":"v","type":"quantitative"}}},
{"data":{"name":"dbrk"},"transform":[{"filter":"datum.p=='D'"}],"mark":{"type":"line","color":"#333333","strokeWidth":1.2},"encoding":{"x":{"field":"g","type":"nominal"},"y":{"field":"y","type":"quantitative"},"order":{"field":"k"}}},
{"data":{"name":"dpt"},"transform":[{"filter":"datum.p=='D'"}],"mark":{"type":"text","fontWeight":"bold","fontSize":9,"color":"#222222"},"encoding":{"y":{"field":"y","type":"quantitative"},"text":{"field":"label"}}}
]}
]},
{"title":{"text":"E. Schirmer test","offset":-5,"dx":3},
"spacing":19,
"resolve":{"scale":{"color":"independent","stroke":"independent","fill":"independent"}},
"hconcat":[
{"width":148,"height":128,
"layer":[
{"data":{"name":"box"},"transform":[{"filter":"datum.p=='E'"}],"mark":{"type":"rule","strokeWidth":1,"opacity":0.8},
"encoding":{"x":{"field":"g","type":"nominal","scale":{"domain":["PRP","AS"],"paddingInner":0.34,"paddingOuter":0.17},"axis":{"title":null}},"xOffset":{"field":"t","type":"nominal","scale":{"domain":["baseline","post-treatment"],"paddingInner":0.06}},
"y":{"field":"lo","type":"quantitative","scale":{"domain":[0,20],"nice":false,"zero":false},"axis":{"values":[0,5,10,15,20],"tickCount":20,"title":"Schirmer test (mm)","labelExpr":"''+datum.value"}},"y2":{"field":"hi"},
"stroke":{"field":"t","type":"nominal","scale":{"domain":["post-treatment","baseline"],"range":["#2E53B2","#982C9C"]},"legend":null}}},
{"data":{"name":"box"},"transform":[{"filter":"datum.p=='E'"}],"mark":{"type":"tick","size":7,"thickness":1,"opacity":0.8},
"encoding":{"x":{"field":"g","type":"nominal"},"xOffset":{"field":"t","type":"nominal"},"y":{"field":"lo","type":"quantitative"},"fill":{"field":"t","type":"nominal","scale":{"domain":["post-treatment","baseline"],"range":["#2E53B2","#982C9C"]},"legend":null}}},
{"data":{"name":"box"},"transform":[{"filter":"datum.p=='E'"}],"mark":{"type":"tick","size":7,"thickness":1,"opacity":0.8},
"encoding":{"x":{"field":"g","type":"nominal"},"xOffset":{"field":"t","type":"nominal"},"y":{"field":"hi","type":"quantitative"},"fill":{"field":"t","type":"nominal","legend":null}}},
{"data":{"name":"box"},"transform":[{"filter":"datum.p=='E'"}],"mark":{"type":"bar","strokeWidth":1},
"encoding":{"x":{"field":"g","type":"nominal"},"xOffset":{"field":"t","type":"nominal"},"y":{"field":"q1","type":"quantitative"},"y2":{"field":"q3"},
"color":{"field":"t","type":"nominal","title":null,"scale":{"domain":["baseline","post-treatment"],"range":["#C62FC9","#4472E2"]},"legend":{"legendX":-15,"legendY":161}},
"stroke":{"field":"t","type":"nominal","legend":null}}},
{"data":{"name":"box"},"transform":[{"filter":"datum.p=='E'"}],"mark":{"type":"bar","strokeWidth":1.3,"fillOpacity":0},
"encoding":{"x":{"field":"g","type":"nominal"},"xOffset":{"field":"t","type":"nominal"},"y":{"field":"med","type":"quantitative"},"y2":{"field":"med"},"stroke":{"field":"t","type":"nominal","legend":null}}},
{"data":{"name":"out"},"transform":[{"filter":"datum.p=='E'"}],"mark":{"type":"point","filled":true,"size":14,"opacity":1},
"encoding":{"x":{"field":"g","type":"nominal"},"xOffset":{"field":"t","type":"nominal"},"y":{"field":"v","type":"quantitative"},"color":{"field":"t","type":"nominal"}}},
{"data":{"name":"brk"},"transform":[{"filter":"datum.p=='E' && datum.c=='pink'"}],"mark":{"type":"line","color":"#E066E0","strokeWidth":1.2},
"encoding":{"x":{"field":"g","type":"nominal"},"xOffset":{"field":"t","type":"nominal"},"y":{"field":"y","type":"quantitative"},"detail":{"field":"b"},"order":{"field":"k"}}},
{"data":{"name":"brk"},"transform":[{"filter":"datum.p=='E' && datum.c=='purple'"}],"mark":{"type":"line","color":"#A08AF0","strokeWidth":1.2},
"encoding":{"x":{"field":"g","type":"nominal"},"xOffset":{"field":"t","type":"nominal"},"y":{"field":"y","type":"quantitative"},"detail":{"field":"b"},"order":{"field":"k"}}},
{"data":{"name":"pt"},"transform":[{"filter":"datum.p=='E' && datum.c=='pink'"}],"mark":{"type":"text","dx":24,"fontWeight":"bold","fontSize":9,"color":"#DC45DC"},
"encoding":{"x":{"field":"g","type":"nominal"},"y":{"field":"y","type":"quantitative"},"text":{"field":"label"}}},
{"data":{"name":"pt"},"transform":[{"filter":"datum.p=='E' && datum.c=='purple'"}],"mark":{"type":"text","fontWeight":"bold","fontSize":9,"color":"#6A4BEF"},
"encoding":{"x":{"field":"g","type":"nominal"},"y":{"field":"y","type":"quantitative"},"text":{"field":"label"}}}
]},
{"width":63,"height":129,
"layer":[
{"data":{"name":"dbox"},"transform":[{"filter":"datum.p=='E'"}],"mark":{"type":"rule","color":"#6B53CF","strokeWidth":1},
"encoding":{"x":{"field":"g","type":"nominal","scale":{"domain":["PRP","AS"],"paddingInner":0.31,"paddingOuter":0.155},"axis":{"title":null}},
"y":{"field":"lo","type":"quantitative","scale":{"domain":[-10,10],"nice":false,"zero":false},"axis":{"values":[-10,-5,0,5,10],"tickCount":20,"title":"Schirmer test diff (mm)","labelExpr":"''+datum.value"}},"y2":{"field":"hi"}}},
{"data":{"name":"dbox"},"transform":[{"filter":"datum.p=='E'"}],"mark":{"type":"tick","size":7,"thickness":1,"color":"#6B53CF"},"encoding":{"x":{"field":"g","type":"nominal"},"y":{"field":"lo","type":"quantitative"}}},
{"data":{"name":"dbox"},"transform":[{"filter":"datum.p=='E'"}],"mark":{"type":"tick","size":7,"thickness":1,"color":"#6B53CF"},"encoding":{"x":{"field":"g","type":"nominal"},"y":{"field":"hi","type":"quantitative"}}},
{"data":{"name":"dbox"},"transform":[{"filter":"datum.p=='E'"}],"mark":{"type":"bar","color":"#8C71E3","stroke":"#5A40C2","strokeWidth":1},"encoding":{"x":{"field":"g","type":"nominal"},"y":{"field":"q1","type":"quantitative"},"y2":{"field":"q3"}}},
{"data":{"name":"dbox"},"transform":[{"filter":"datum.p=='E'"}],"mark":{"type":"bar","fillOpacity":0,"stroke":"#4A33A8","strokeWidth":1.3},"encoding":{"x":{"field":"g","type":"nominal"},"y":{"field":"med","type":"quantitative"},"y2":{"field":"med"}}},
{"data":{"name":"dbrk"},"transform":[{"filter":"datum.p=='E'"}],"mark":{"type":"line","color":"#333333","strokeWidth":1.2},"encoding":{"x":{"field":"g","type":"nominal"},"y":{"field":"y","type":"quantitative"},"order":{"field":"k"}}},
{"data":{"name":"dpt"},"transform":[{"filter":"datum.p=='E'"}],"mark":{"type":"text","fontWeight":"bold","fontSize":9,"color":"#222222"},"encoding":{"y":{"field":"y","type":"quantitative"},"text":{"field":"label"}}}
]}
]},
{"title":{"text":"F. BCVA","offset":0,"dx":3},
"spacing":19,
"resolve":{"scale":{"color":"independent","stroke":"independent","fill":"independent"}},
"hconcat":[
{"width":145,"height":133,
"layer":[
{"data":{"name":"box"},"transform":[{"filter":"datum.p=='F'"}],"mark":{"type":"rule","strokeWidth":1,"opacity":0.8},
"encoding":{"x":{"field":"g","type":"nominal","scale":{"domain":["PRP","AS"],"paddingInner":0.34,"paddingOuter":0.17},"axis":{"title":null}},"xOffset":{"field":"t","type":"nominal","scale":{"domain":["baseline","post-treatment"],"paddingInner":0.06}},
"y":{"field":"lo","type":"quantitative","scale":{"domain":[0,1.1],"nice":false,"zero":false},"axis":{"values":[0,0.2,0.4,0.6,0.8,1],"tickCount":20,"title":"BCVA (logMAR)","labelExpr":"''+datum.value"}},"y2":{"field":"hi"},
"stroke":{"field":"t","type":"nominal","scale":{"domain":["post-treatment","baseline"],"range":["#2E53B2","#982C9C"]},"legend":null}}},
{"data":{"name":"box"},"transform":[{"filter":"datum.p=='F'"}],"mark":{"type":"tick","size":7,"thickness":1,"opacity":0.8},
"encoding":{"x":{"field":"g","type":"nominal"},"xOffset":{"field":"t","type":"nominal"},"y":{"field":"lo","type":"quantitative"},"fill":{"field":"t","type":"nominal","scale":{"domain":["post-treatment","baseline"],"range":["#2E53B2","#982C9C"]},"legend":null}}},
{"data":{"name":"box"},"transform":[{"filter":"datum.p=='F'"}],"mark":{"type":"tick","size":7,"thickness":1,"opacity":0.8},
"encoding":{"x":{"field":"g","type":"nominal"},"xOffset":{"field":"t","type":"nominal"},"y":{"field":"hi","type":"quantitative"},"fill":{"field":"t","type":"nominal","legend":null}}},
{"data":{"name":"box"},"transform":[{"filter":"datum.p=='F'"}],"mark":{"type":"bar","strokeWidth":1},
"encoding":{"x":{"field":"g","type":"nominal"},"xOffset":{"field":"t","type":"nominal"},"y":{"field":"q1","type":"quantitative"},"y2":{"field":"q3"},
"color":{"field":"t","type":"nominal","title":null,"scale":{"domain":["baseline","post-treatment"],"range":["#C62FC9","#4472E2"]},"legend":{"legendX":-18,"legendY":161}},
"stroke":{"field":"t","type":"nominal","legend":null}}},
{"data":{"name":"box"},"transform":[{"filter":"datum.p=='F'"}],"mark":{"type":"bar","strokeWidth":1.3,"fillOpacity":0},
"encoding":{"x":{"field":"g","type":"nominal"},"xOffset":{"field":"t","type":"nominal"},"y":{"field":"med","type":"quantitative"},"y2":{"field":"med"},"stroke":{"field":"t","type":"nominal","legend":null}}},
{"data":{"name":"brk"},"transform":[{"filter":"datum.p=='F' && datum.c=='pink'"}],"mark":{"type":"line","color":"#E066E0","strokeWidth":1.2},
"encoding":{"x":{"field":"g","type":"nominal"},"xOffset":{"field":"t","type":"nominal"},"y":{"field":"y","type":"quantitative"},"detail":{"field":"b"},"order":{"field":"k"}}},
{"data":{"name":"brk"},"transform":[{"filter":"datum.p=='F' && datum.c=='purple'"}],"mark":{"type":"line","color":"#A08AF0","strokeWidth":1.2},
"encoding":{"x":{"field":"g","type":"nominal"},"xOffset":{"field":"t","type":"nominal"},"y":{"field":"y","type":"quantitative"},"detail":{"field":"b"},"order":{"field":"k"}}},
{"data":{"name":"pt"},"transform":[{"filter":"datum.p=='F' && datum.c=='pink'"}],"mark":{"type":"text","dx":24,"fontWeight":"bold","fontSize":9,"color":"#DC45DC"},
"encoding":{"x":{"field":"g","type":"nominal"},"y":{"field":"y","type":"quantitative"},"text":{"field":"label"}}},
{"data":{"name":"pt"},"transform":[{"filter":"datum.p=='F' && datum.c=='purple'"}],"mark":{"type":"text","fontWeight":"bold","fontSize":9,"color":"#6A4BEF"},
"encoding":{"x":{"field":"g","type":"nominal"},"y":{"field":"y","type":"quantitative"},"text":{"field":"label"}}}
]},
{"spacing":0,"vconcat":[
{"width":1,"height":21,"data":{"values":[]},"mark":"point","encoding":{}},
{"width":65,"height":109,
"layer":[
{"data":{"name":"dbox"},"transform":[{"filter":"datum.p=='F'"}],"mark":{"type":"rule","color":"#6B53CF","strokeWidth":1},
"encoding":{"x":{"field":"g","type":"nominal","scale":{"domain":["PRP","AS"],"paddingInner":0.31,"paddingOuter":0.155},"axis":{"title":null}},
"y":{"field":"lo","type":"quantitative","scale":{"domain":[-0.6,0.3],"nice":false,"zero":false},"axis":{"values":[-0.6,-0.4,-0.2,0,0.2],"tickCount":20,"title":"BCVA diff","labelExpr":"''+datum.value"}},"y2":{"field":"hi"}}},
{"data":{"name":"dbox"},"transform":[{"filter":"datum.p=='F'"}],"mark":{"type":"tick","size":7,"thickness":1,"color":"#6B53CF"},"encoding":{"x":{"field":"g","type":"nominal"},"y":{"field":"lo","type":"quantitative"}}},
{"data":{"name":"dbox"},"transform":[{"filter":"datum.p=='F'"}],"mark":{"type":"tick","size":7,"thickness":1,"color":"#6B53CF"},"encoding":{"x":{"field":"g","type":"nominal"},"y":{"field":"hi","type":"quantitative"}}},
{"data":{"name":"dbox"},"transform":[{"filter":"datum.p=='F'"}],"mark":{"type":"bar","color":"#8C71E3","stroke":"#5A40C2","strokeWidth":1},"encoding":{"x":{"field":"g","type":"nominal"},"y":{"field":"q1","type":"quantitative"},"y2":{"field":"q3"}}},
{"data":{"name":"dbox"},"transform":[{"filter":"datum.p=='F'"}],"mark":{"type":"bar","fillOpacity":0,"stroke":"#4A33A8","strokeWidth":1.3},"encoding":{"x":{"field":"g","type":"nominal"},"y":{"field":"med","type":"quantitative"},"y2":{"field":"med"}}},
{"data":{"name":"dbrk"},"transform":[{"filter":"datum.p=='F'"}],"mark":{"type":"line","color":"#333333","strokeWidth":1.2},"encoding":{"x":{"field":"g","type":"nominal"},"y":{"field":"y","type":"quantitative"},"order":{"field":"k"}}},
{"data":{"name":"dpt"},"transform":[{"filter":"datum.p=='F'"}],"mark":{"type":"text","fontWeight":"bold","fontSize":9,"color":"#222222"},"encoding":{"y":{"field":"y","type":"quantitative"},"text":{"field":"label"}}}
]}
]}
]},
{"title":{"text":"G. IOP","offset":6,"dx":3},
"spacing":19,
"resolve":{"scale":{"color":"independent","stroke":"independent","fill":"independent"}},
"hconcat":[
{"width":148,"height":128,
"layer":[
{"data":{"name":"box"},"transform":[{"filter":"datum.p=='G'"}],"mark":{"type":"rule","strokeWidth":1,"opacity":0.8},
"encoding":{"x":{"field":"g","type":"nominal","scale":{"domain":["PRP","AS"],"paddingInner":0.34,"paddingOuter":0.17},"axis":{"title":null}},"xOffset":{"field":"t","type":"nominal","scale":{"domain":["baseline","post-treatment"],"paddingInner":0.06}},
"y":{"field":"lo","type":"quantitative","scale":{"domain":[0,25],"nice":false,"zero":false},"axis":{"values":[0,5,10,15,20,25],"tickCount":20,"title":"IOP (mmHg)","labelExpr":"''+datum.value"}},"y2":{"field":"hi"},
"stroke":{"field":"t","type":"nominal","scale":{"domain":["post-treatment","baseline"],"range":["#2E53B2","#982C9C"]},"legend":null}}},
{"data":{"name":"box"},"transform":[{"filter":"datum.p=='G'"}],"mark":{"type":"tick","size":7,"thickness":1,"opacity":0.8},
"encoding":{"x":{"field":"g","type":"nominal"},"xOffset":{"field":"t","type":"nominal"},"y":{"field":"lo","type":"quantitative"},"fill":{"field":"t","type":"nominal","scale":{"domain":["post-treatment","baseline"],"range":["#2E53B2","#982C9C"]},"legend":null}}},
{"data":{"name":"box"},"transform":[{"filter":"datum.p=='G'"}],"mark":{"type":"tick","size":7,"thickness":1,"opacity":0.8},
"encoding":{"x":{"field":"g","type":"nominal"},"xOffset":{"field":"t","type":"nominal"},"y":{"field":"hi","type":"quantitative"},"fill":{"field":"t","type":"nominal","legend":null}}},
{"data":{"name":"box"},"transform":[{"filter":"datum.p=='G'"}],"mark":{"type":"bar","strokeWidth":1},
"encoding":{"x":{"field":"g","type":"nominal"},"xOffset":{"field":"t","type":"nominal"},"y":{"field":"q1","type":"quantitative"},"y2":{"field":"q3"},
"color":{"field":"t","type":"nominal","title":null,"scale":{"domain":["baseline","post-treatment"],"range":["#C62FC9","#4472E2"]},"legend":{"legendX":-16,"legendY":160}},
"stroke":{"field":"t","type":"nominal","legend":null}}},
{"data":{"name":"box"},"transform":[{"filter":"datum.p=='G'"}],"mark":{"type":"bar","strokeWidth":1.3,"fillOpacity":0},
"encoding":{"x":{"field":"g","type":"nominal"},"xOffset":{"field":"t","type":"nominal"},"y":{"field":"med","type":"quantitative"},"y2":{"field":"med"},"stroke":{"field":"t","type":"nominal","legend":null}}},
{"data":{"name":"brk"},"transform":[{"filter":"datum.p=='G' && datum.c=='pink'"}],"mark":{"type":"line","color":"#E066E0","strokeWidth":1.2},
"encoding":{"x":{"field":"g","type":"nominal"},"xOffset":{"field":"t","type":"nominal"},"y":{"field":"y","type":"quantitative"},"detail":{"field":"b"},"order":{"field":"k"}}},
{"data":{"name":"brk"},"transform":[{"filter":"datum.p=='G' && datum.c=='purple'"}],"mark":{"type":"line","color":"#A08AF0","strokeWidth":1.2},
"encoding":{"x":{"field":"g","type":"nominal"},"xOffset":{"field":"t","type":"nominal"},"y":{"field":"y","type":"quantitative"},"detail":{"field":"b"},"order":{"field":"k"}}},
{"data":{"name":"pt"},"transform":[{"filter":"datum.p=='G' && datum.c=='pink'"}],"mark":{"type":"text","dx":24,"fontWeight":"bold","fontSize":9,"color":"#DC45DC"},
"encoding":{"x":{"field":"g","type":"nominal"},"y":{"field":"y","type":"quantitative"},"text":{"field":"label"}}},
{"data":{"name":"pt"},"transform":[{"filter":"datum.p=='G' && datum.c=='purple'"}],"mark":{"type":"text","fontWeight":"bold","fontSize":9,"color":"#6A4BEF"},
"encoding":{"x":{"field":"g","type":"nominal"},"y":{"field":"y","type":"quantitative"},"text":{"field":"label"}}}
]},
{"spacing":0,"vconcat":[
{"width":1,"height":41,"data":{"values":[]},"mark":"point","encoding":{}},
{"width":69,"height":76,
"layer":[
{"data":{"name":"dbox"},"transform":[{"filter":"datum.p=='G'"}],"mark":{"type":"rule","color":"#6B53CF","strokeWidth":1},
"encoding":{"x":{"field":"g","type":"nominal","scale":{"domain":["PRP","AS"],"paddingInner":0.31,"paddingOuter":0.155},"axis":{"title":null}},
"y":{"field":"lo","type":"quantitative","scale":{"domain":[-10,5],"nice":false,"zero":false},"axis":{"values":[-10,-5,0,5],"tickCount":20,"title":"IOP diff","labelExpr":"''+datum.value"}},"y2":{"field":"hi"}}},
{"data":{"name":"dbox"},"transform":[{"filter":"datum.p=='G'"}],"mark":{"type":"tick","size":7,"thickness":1,"color":"#6B53CF"},"encoding":{"x":{"field":"g","type":"nominal"},"y":{"field":"lo","type":"quantitative"}}},
{"data":{"name":"dbox"},"transform":[{"filter":"datum.p=='G'"}],"mark":{"type":"tick","size":7,"thickness":1,"color":"#6B53CF"},"encoding":{"x":{"field":"g","type":"nominal"},"y":{"field":"hi","type":"quantitative"}}},
{"data":{"name":"dbox"},"transform":[{"filter":"datum.p=='G'"}],"mark":{"type":"bar","color":"#8C71E3","stroke":"#5A40C2","strokeWidth":1},"encoding":{"x":{"field":"g","type":"nominal"},"y":{"field":"q1","type":"quantitative"},"y2":{"field":"q3"}}},
{"data":{"name":"dbox"},"transform":[{"filter":"datum.p=='G'"}],"mark":{"type":"bar","fillOpacity":0,"stroke":"#4A33A8","strokeWidth":1.3},"encoding":{"x":{"field":"g","type":"nominal"},"y":{"field":"med","type":"quantitative"},"y2":{"field":"med"}}},
{"data":{"name":"dout"},"transform":[{"filter":"datum.p=='G'"}],"mark":{"type":"point","filled":true,"size":14,"color":"#5A42C8","opacity":1},"encoding":{"x":{"field":"g","type":"nominal"},"y":{"field":"v","type":"quantitative"}}},
{"data":{"name":"dbrk"},"transform":[{"filter":"datum.p=='G'"}],"mark":{"type":"line","color":"#333333","strokeWidth":1.2},"encoding":{"x":{"field":"g","type":"nominal"},"y":{"field":"y","type":"quantitative"},"order":{"field":"k"}}},
{"data":{"name":"dpt"},"transform":[{"filter":"datum.p=='G'"}],"mark":{"type":"text","fontWeight":"bold","fontSize":9,"color":"#222222"},"encoding":{"y":{"field":"y","type":"quantitative"},"text":{"field":"label"}}}
]}
]}
]}
],
"config":{
"font":"Lato",
"view":{"stroke":null},
"axis":{"labelFont":"Lato","titleFont":"Lato","labelFontSize":11,"titleFontSize":11.5,"titleFontWeight":"normal","labelColor":"#404040","titleColor":"#404040","ticks":false,"domainColor":"#C4C4C4","gridColor":"#EBEBEB","labelPadding":6,"titlePadding":8,"labelOverlap":false},
"axisX":{"grid":false,"labelAngle":0,"labelPadding":4,"labelFontSize":11.5,"labelColor":"#303030"},
"axisY":{"grid":true},
"legend":{"orient":"none","direction":"horizontal","symbolType":"square","symbolSize":64,"labelFont":"Lato","labelFontSize":11.5,"labelColor":"#404040","columnPadding":8,"labelOffset":4,"padding":0,"symbolStrokeWidth":0},
"title":{"font":"Lato","fontSize":14.5,"fontWeight":"bold","anchor":"start","color":"#111111"}
}
}
